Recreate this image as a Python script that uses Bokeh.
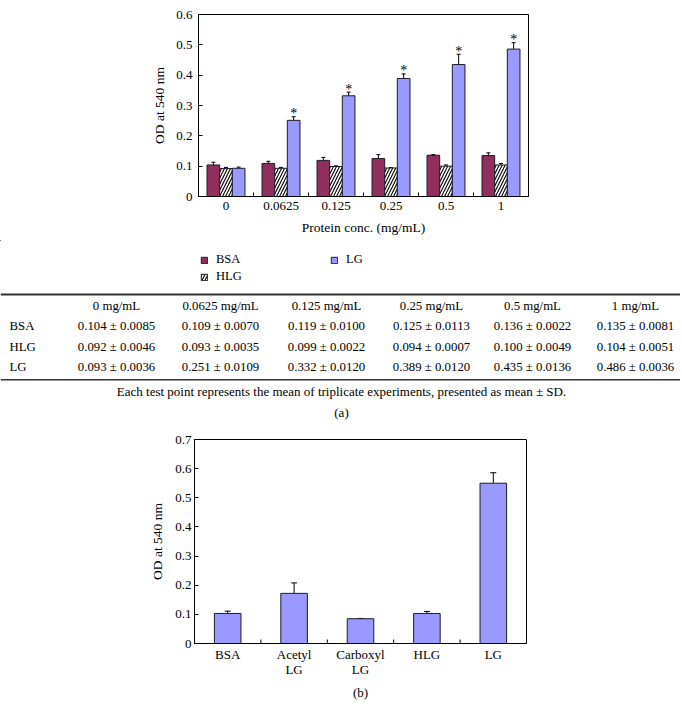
from math import pi
from bokeh.plotting import figure
from bokeh.models import (ColumnDataSource, FactorRange, Range1d, Whisker, TeeHead,
                          Legend, LegendItem, FixedTicker, NumeralTickFormatter)
from bokeh.transform import dodge
from bokeh.layouts import column
from bokeh.embed import file_html
from bokeh.resources import INLINE
from bokeh.core.properties import value

# ---------------- data ----------------
concs = ["0", "0.0625", "0.125", "0.25", "0.5", "1"]
bsa_mean = [0.104, 0.109, 0.119, 0.125, 0.136, 0.135]
hlg_mean = [0.092, 0.093, 0.099, 0.094, 0.100, 0.104]
lg_mean = [0.093, 0.251, 0.332, 0.389, 0.435, 0.486]
bsa_sd = [0.0085, 0.0070, 0.0100, 0.0113, 0.0022, 0.0081]
hlg_sd = [0.0046, 0.0035, 0.0022, 0.0007, 0.0049, 0.0051]
lg_sd = [0.0036, 0.0109, 0.0120, 0.0120, 0.0136, 0.0036]
# error bars as drawn in the chart
bsa_err = [0.009, 0.007, 0.010, 0.013, 0.002, 0.009]
hlg_err = [0.004, 0.003, 0.002, 0.001, 0.004, 0.005]
lg_err = [0.004, 0.012, 0.012, 0.015, 0.034, 0.021]
lg_signif = [False, True, True, True, True, True]
series_names = ["BSA", "HLG", "LG"]
y_ticks_a = [0, 0.1, 0.2, 0.3, 0.4, 0.5, 0.6]

samples = ["BSA", "Acetyl\nLG", "Carboxyl\nLG", "HLG", "LG"]
od = [0.103, 0.172, 0.085, 0.103, 0.550]
od_err = [0.008, 0.036, 0.001, 0.007, 0.036]
y_ticks_b = [0, 0.1, 0.2, 0.3, 0.4, 0.5, 0.6, 0.7]

caption = "Each test point represents the mean of triplicate experiments, presented as mean \u00b1 SD."

# ---------------- styles ----------------
SERIF = "Liberation Serif"
C_BSA = "#922E5E"
C_LG = "#9999FF"
EDGE = "#1c1c2c"
W = 680


def style_axes(p):
    p.frame_align = False
    p.xgrid.visible = False
    p.ygrid.visible = False
    p.outline_line_color = "black"
    p.outline_line_width = 1
    for ax in (p.xaxis[0], p.yaxis[0]):
        ax.axis_line_color = "black"
        ax.major_label_text_font = SERIF
        ax.major_label_text_font_size = "13px"
        ax.major_label_text_color = "black"
        ax.axis_label_text_font = SERIF
        ax.axis_label_text_font_size = "13.5px"
        ax.axis_label_text_font_style = "normal"
        ax.axis_label_text_color = "black"
        ax.minor_tick_line_color = None
        ax.minor_tick_in = 0
        ax.minor_tick_out = 0
    p.xaxis.major_tick_line_color = None
    p.xaxis.major_tick_in = 0
    p.xaxis.major_tick_out = 0
    p.yaxis.major_tick_in = 4
    p.yaxis.major_tick_out = 0
    p.yaxis.major_tick_line_color = "black"
    p.yaxis.formatter = NumeralTickFormatter(format="0.[0]")


# ---------------- chart (a) ----------------
src = ColumnDataSource(dict(
    conc=concs,
    bsa=bsa_mean, bsa_lo=[m - e for m, e in zip(bsa_mean, bsa_err)], bsa_hi=[m + e for m, e in zip(bsa_mean, bsa_err)],
    hlg=hlg_mean, hlg_lo=[m - e for m, e in zip(hlg_mean, hlg_err)], hlg_hi=[m + e for m, e in zip(hlg_mean, hlg_err)],
    lg=lg_mean, lg_lo=[m - e for m, e in zip(lg_mean, lg_err)], lg_hi=[m + e for m, e in zip(lg_mean, lg_err)],
))

pa = figure(x_range=FactorRange(factors=concs), y_range=Range1d(0, 0.6),
            width=W, height=240, output_backend="svg", toolbar_location=None,
            min_border_left=198, min_border_right=W - 528, min_border_top=14, min_border_bottom=44,
            x_axis_label="Protein conc. (mg/mL)", y_axis_label="OD at 540 nm")
style_axes(pa)
pa.yaxis.ticker = FixedTicker(ticks=y_ticks_a)
pa.yaxis.major_label_standoff = 6
pa.yaxis.axis_label_standoff = 6
pa.xaxis.major_label_standoff = 5
pa.xaxis.axis_label_standoff = 7

BW = 0.23
hatch_kw = dict(hatch_pattern="right_diagonal_line", hatch_color="black", hatch_scale=6, hatch_weight=1.1)
r_bsa = pa.vbar(x=dodge("conc", -BW, range=pa.x_range), top="bsa", width=BW, source=src,
                fill_color=C_BSA, line_color=EDGE, line_width=1)
r_hlg = pa.vbar(x=dodge("conc", 0, range=pa.x_range), top="hlg", width=BW, source=src,
                fill_color="white", line_color=EDGE, line_width=1, **hatch_kw)
r_lg = pa.vbar(x=dodge("conc", BW, range=pa.x_range), top="lg", width=BW, source=src,
               fill_color=C_LG, line_color=EDGE, line_width=1)

for off, key in ((-BW, "bsa"), (0, "hlg"), (BW, "lg")):
    pa.add_layout(Whisker(base=dodge("conc", off, range=pa.x_range), upper=key + "_hi", lower=key + "_lo",
                          source=src, line_color="black", line_width=1,
                          upper_head=TeeHead(size=4, line_color="black", line_width=1),
                          lower_head=TeeHead(size=4, line_color="black", line_width=1)))

star_src = ColumnDataSource(dict(
    x=[c for c, s in zip(concs, lg_signif) if s],
    y=[m + e for m, e, s in zip(lg_mean, lg_err, lg_signif) if s],
))
pa.text(x=dodge("x", BW, range=pa.x_range), y="y", text=value("*"), source=star_src,
        text_font=value(SERIF), text_font_size="14px", text_align="center",
        text_baseline="alphabetic", y_offset=-3, text_color="black")

# tick marks between categories (pointing inward)
bnd_a = ColumnDataSource(dict(x=concs[:-1]))
pa.scatter(x=dodge("x", 0.5, range=pa.x_range), y=0, source=bnd_a, marker="dash",
           angle=pi / 2, size=8, line_color="black", line_width=1)

# ---------------- legend + table ----------------
TH = 190
pt = figure(width=W, height=TH, x_range=Range1d(0, W), y_range=Range1d(TH, 0),
            output_backend="svg", toolbar_location=None, min_border=0,
            x_axis_location=None, y_axis_location=None)
pt.frame_align = False
pt.xgrid.visible = False
pt.ygrid.visible = False
pt.outline_line_color = None

# legend keys: zero-size boxes far off the canvas that share the bar styles of chart (a)
key_src = ColumnDataSource(dict(x=[-5000], top=[-5000], bottom=[-5000]))
k_bsa = pt.vbar(x="x", top="top", bottom="bottom", width=0, source=key_src,
                fill_color=C_BSA, line_color=EDGE, line_width=1)
k_hlg = pt.vbar(x="x", top="top", bottom="bottom", width=0, source=key_src,
                fill_color="white", line_color=EDGE, line_width=1, **hatch_kw)
k_lg = pt.vbar(x="x", top="top", bottom="bottom", width=0, source=key_src,
               fill_color=C_LG, line_color=EDGE, line_width=1)
legend = Legend(items=[LegendItem(label="BSA", renderers=[k_bsa], index=0),
                       LegendItem(label="HLG", renderers=[k_hlg], index=0),
                       LegendItem(label="LG", renderers=[k_lg], index=0)],
                orientation="vertical", nrows=2, location=(200, TH - 44),
                glyph_width=8, glyph_height=8, label_standoff=8, label_width=112,
                label_height=14, spacing=2, padding=0, margin=0,
                border_line_color=None, background_fill_alpha=0,
                label_text_font=SERIF, label_text_font_size="12.5px", label_text_color="black")
pt.add_layout(legend)

col_x = [116, 220, 326, 431, 532, 635]
row_y = [85.5, 106, 126.5]
header_y = 65
TFS = "12.8px"

pt.text(x=col_x, y=[header_y] * len(concs), text=[c + " mg/mL" for c in concs],
        text_font=value(SERIF), text_font_size=TFS, text_align="center",
        text_baseline="middle", text_color="black")
pt.text(x=[9] * 3, y=row_y, text=series_names,
        text_font=value(SERIF), text_font_size=TFS, text_align="left",
        text_baseline="middle", text_color="black")
cells_x, cells_y, cells_t = [], [], []
for ry, means, sds in zip(row_y, (bsa_mean, hlg_mean, lg_mean), (bsa_sd, hlg_sd, lg_sd)):
    for cx, m, s in zip(col_x, means, sds):
        cells_x.append(cx)
        cells_y.append(ry)
        cells_t.append(f"{m:.3f} \u00b1 {s:.4f}")
pt.text(x=cells_x, y=cells_y, text=cells_t,
        text_font=value(SERIF), text_font_size=TFS, text_align="center",
        text_baseline="middle", text_color="black")
pt.segment(x0=[0, 0], x1=[W, W], y0=[54, 139.3], y1=[54, 139.3],
           line_color="#333333", line_width=[2, 1.5])
pt.text(x=[341], y=[151], text=[caption], text_font=value(SERIF), text_font_size="13px",
        text_align="center", text_baseline="middle", text_color="black")
pt.text(x=[341], y=[172], text=["(a)"], text_font=value(SERIF), text_font_size="13px",
        text_align="center", text_baseline="middle", text_color="black")

# ---------------- chart (b) ----------------
src_b = ColumnDataSource(dict(s=samples, od=od, hi=[v + e for v, e in zip(od, od_err)]))
pb = figure(x_range=FactorRange(factors=samples), y_range=Range1d(0, 0.7),
            width=W, height=290, output_backend="svg", toolbar_location=None,
            min_border_left=194, min_border_right=W - 526, min_border_top=9, min_border_bottom=77,
            x_axis_label="(b)", y_axis_label="OD at 540 nm")
style_axes(pb)
pb.yaxis.ticker = FixedTicker(ticks=y_ticks_b)
pb.yaxis.major_label_standoff = 3
pb.yaxis.axis_label_standoff = 7
pb.xaxis.major_label_standoff = 3
pb.xaxis.major_label_text_line_height = 1.05
pb.xaxis.axis_label_standoff = 5
pb.xaxis.axis_label_text_font_size = "13px"

pb.vbar(x="s", top="od", width=0.4, source=src_b, fill_color=C_LG, line_color=EDGE, line_width=1)
pb.add_layout(Whisker(base="s", upper="hi", lower="od", source=src_b, line_color="black", line_width=1,
                      upper_head=TeeHead(size=6, line_color="black", line_width=1), lower_head=None))
bnd_b = ColumnDataSource(dict(x=samples[:-1]))
pb.scatter(x=dodge("x", 0.5, range=pb.x_range), y=0, source=bnd_b, marker="dash",
           angle=pi / 2, size=8, line_color="black", line_width=1)

layout = column(pa, pt, pb, spacing=0)
open("out.html", "w").write(file_html(layout, INLINE))
